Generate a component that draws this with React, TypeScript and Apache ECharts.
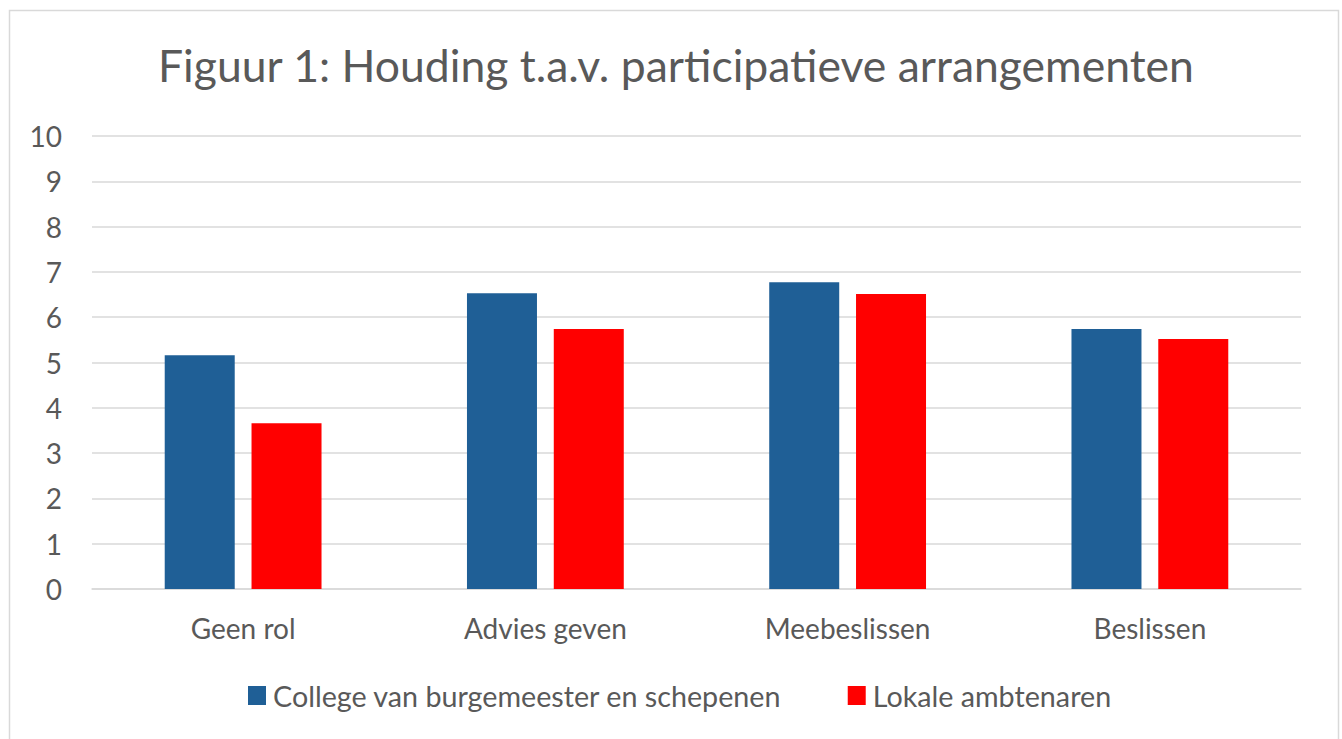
import React, { useEffect, useRef } from "react";
import * as echarts from "echarts";

const titleText = "Figuur 1: Houding t.a.v. participatieve arrangementen";
const categories = ["Geen rol", "Advies geven", "Meebeslissen", "Beslissen"];
const seriesNames = ["College van burgemeester en schepenen", "Lokale ambtenaren"];
const collegeValues = [5.16, 6.53, 6.77, 5.74];
const ambtenarenValues = [3.66, 5.74, 6.51, 5.52];
const colors = ["#1f5f96", "#ff0000"];

export default function App() {
  const ref = useRef<HTMLDivElement>(null);
  useEffect(() => {
    document.body.style.margin = "0";
    const chart = echarts.init(ref.current!, null, { renderer: "svg" });
    const font = "Lato, 'Open Sans', sans-serif";
    chart.setOption({
      animation: false,
      backgroundColor: "#ffffff",
      textStyle: { fontFamily: font },
      title: {
        text: titleText,
        left: 153,
        top: 37,
        textStyle: { fontSize: 44.5, fontWeight: "normal", color: "#595959", fontFamily: font },
      },
      graphic: [
        {
          type: "rect",
          shape: { x: 9.5, y: 10.5, width: 1329, height: 740 },
          style: { fill: "none", stroke: "#d9d9d9", lineWidth: 1.5 },
          silent: true,
        },
      ],
      legend: {
        data: seriesNames,
        top: 676,
        left: 243,
        icon: "rect",
        itemWidth: 18,
        itemHeight: 19,
        itemGap: 66,
        textStyle: { fontSize: 28.7, color: "#595959", fontFamily: font, padding: [0, 0, 0, 2] },
      },
      grid: { left: 92, right: 41, top: 136, bottom: 150, containLabel: false },
      xAxis: {
        type: "category",
        data: categories,
        axisLine: { lineStyle: { color: "#d9d9d9", width: 1.5 } },
        axisTick: { show: false },
        axisLabel: { fontSize: 28, color: "#595959", margin: 25, fontFamily: font },
      },
      yAxis: {
        type: "value",
        min: 0,
        max: 10,
        interval: 1,
        axisLine: { show: false },
        axisTick: { show: false },
        splitLine: { lineStyle: { color: "#d9d9d9", width: 1.5 } },
        axisLabel: { fontSize: 28, color: "#595959", margin: 30, fontFamily: font },
      },
      series: [
        {
          name: seriesNames[0],
          type: "bar",
          data: collegeValues,
          barWidth: 70,
          barGap: "24%",
          itemStyle: { color: colors[0] },
        },
        {
          name: seriesNames[1],
          type: "bar",
          data: ambtenarenValues,
          barWidth: 70,
          itemStyle: { color: colors[1] },
        },
      ],
    });
    return () => chart.dispose();
  }, []);
  return <div ref={ref} style={{ position: "fixed", left: 0, top: 0, width: 1342, height: 739 }} />;
}
